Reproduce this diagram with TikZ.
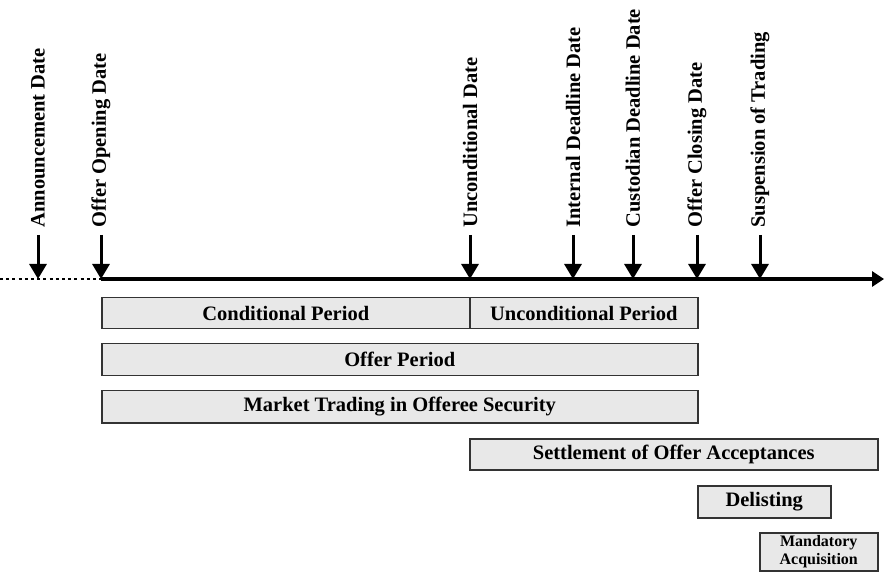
\documentclass[tikz,border=0pt]{standalone}
\usepackage{fontspec}
\setmainfont{Liberation Serif}
\usetikzlibrary{arrows.meta,positioning,calc}
\tikzset{every picture/.style={line width=0.75pt}}
\tikzset{
  datelbl/.style={rotate=90, anchor=west, font=\bfseries\fontsize{10.25}{12}\selectfont},
  datearr/.style={line width=1.5pt, -{Triangle[width=8.5pt,length=7.5pt]}},
  period/.style={draw=black!80, fill=black!9, inner sep=0pt, anchor=north west,
    font=\bfseries\fontsize{10.25}{12}\selectfont},
}

\begin{document}
\begin{tikzpicture}[x=0.5pt, y=-0.5pt]
    \useasboundingbox (0,0) rectangle (884,572);
    % 时间轴
    \coordinate (tl-s) at (0,279);
    \coordinate (tl-o) at (101,279);
    \coordinate (tl-e) at (884,279);
    \draw[line width=1pt, dash pattern=on 1.5pt off 1.6pt] (tl-s) -- (tl-o);
    \draw[line width=1.6pt, -{Triangle[width=7.5pt,length=6pt]}] (tl-o) -- (tl-e);
    % 日期
    \coordinate (d-ann) at (38,279);
    \node[datelbl] (l-ann) at (38,235) {Announcement Date};
    \draw[datearr] (l-ann.west) -- (d-ann);
    \node[datelbl] (l-open) at (101,235) {Offer Opening Date};
    \draw[datearr] (l-open.west) -- (tl-o);
    \coordinate (d-unc) at (470,279);
    \node[datelbl] (l-unc) at (470,235) {Unconditional Date};
    \draw[datearr] (l-unc.west) -- (d-unc);
    \coordinate (d-int) at (573,279);
    \node[datelbl] (l-int) at (573,235) {Internal Deadline Date};
    \draw[datearr] (l-int.west) -- (d-int);
    \coordinate (d-cus) at (633,279);
    \node[datelbl] (l-cus) at (633,235) {Custodian Deadline Date};
    \draw[datearr] (l-cus.west) -- (d-cus);
    \coordinate (d-close) at (697,279);
    \node[datelbl] (l-close) at (697,235) {Offer Closing Date};
    \draw[datearr] (l-close.west) -- (d-close);
    \coordinate (d-susp) at (760,279);
    \node[datelbl] (l-susp) at (760,235) {Suspension of Trading};
    \draw[datearr] (l-susp.west) -- (d-susp);
    % 期间
    \node[period, minimum width=184pt, minimum height=15.5pt] (cond) at (101,297) {Conditional Period};
    \node[period, minimum width=114pt, minimum height=15.5pt] (uncond) at (469,297) {Unconditional Period};
    \node[period, minimum width=298pt, minimum height=16pt] (offer) at (101,343) {Offer Period};
    \node[period, minimum width=298pt, minimum height=16pt] (market) at (101,390) {Market Trading in Offeree Security};
    \node[period, minimum width=204pt, minimum height=15.5pt] (settle) at (469,438) {Settlement of Offer Acceptances};
    \node[period, minimum width=66.5pt, minimum height=16pt] (delist) at (697,485) {Delisting};
    \node[period, minimum width=59pt, minimum height=19pt, align=center,
      font=\bfseries\fontsize{8}{9}\selectfont] (mand) at (759,532) {Mandatory\\Acquisition};
\end{tikzpicture}
\end{document}
